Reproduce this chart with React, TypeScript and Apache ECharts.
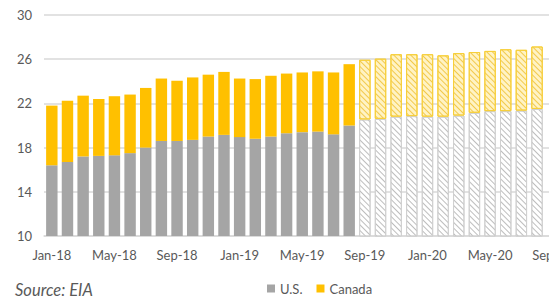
import React, { useEffect, useRef } from 'react';
import * as echarts from 'echarts';

const categories = [
  'Jan-18', 'Feb-18', 'Mar-18', 'Apr-18', 'May-18', 'Jun-18', 'Jul-18', 'Aug-18', 'Sep-18', 'Oct-18', 'Nov-18', 'Dec-18',
  'Jan-19', 'Feb-19', 'Mar-19', 'Apr-19', 'May-19', 'Jun-19', 'Jul-19', 'Aug-19', 'Sep-19', 'Oct-19', 'Nov-19', 'Dec-19',
  'Jan-20', 'Feb-20', 'Mar-20', 'Apr-20', 'May-20', 'Jun-20', 'Jul-20', 'Aug-20', 'Sep-20',
];

const usValues: (number | null)[] = [
  16.4, 16.7, 17.2, 17.25, 17.3, 17.5, 18.0, 18.6, 18.6, 18.7, 19.0, 19.15,
  18.95, 18.8, 19.0, 19.3, 19.4, 19.45, 19.2, 20.0, 20.55, 20.6, 20.8, 20.85,
  20.8, 20.8, 20.9, 21.15, 21.3, 21.3, 21.35, 21.5, null,
];

const canadaValues: (number | null)[] = [
  5.4, 5.55, 5.5, 5.15, 5.35, 5.3, 5.4, 5.65, 5.45, 5.65, 5.6, 5.7,
  5.3, 5.4, 5.5, 5.4, 5.4, 5.45, 5.6, 5.55, 5.4, 5.45, 5.65, 5.6,
  5.65, 5.55, 5.65, 5.5, 5.45, 5.6, 5.5, 5.65, null,
];

const forecastStartIndex = 20;
const seriesNames = ['U.S.', 'Canada'];
const yMin = 10;
const yMax = 30;
const yInterval = 4;
const sourceText = 'Source: EIA';

const FONT = 'Lato, "Open Sans", sans-serif';

const hatch = (color: string) => ({
  symbol: 'rect',
  symbolSize: 1,
  dashArrayX: [1, 0],
  dashArrayY: [1, 2.2],
  rotation: Math.PI / 4,
  color,
});

export default function App() {
  const ref = useRef<HTMLDivElement>(null);

  useEffect(() => {
    if (!ref.current) return;
    const chart = echarts.init(ref.current, null, { renderer: 'svg' });

    const usData = usValues.map((v, i) =>
      i >= forecastStartIndex
        ? {
            value: v,
            itemStyle: {
              color: '#ffffff',
              borderColor: '#d0d0d0',
              borderWidth: 1,
              decal: hatch('#bdbdbd'),
            },
          }
        : v
    );
    const caData = canadaValues.map((v, i) =>
      i >= forecastStartIndex
        ? {
            value: v,
            itemStyle: {
              color: '#FFF3C4',
              borderColor: '#F7CF3A',
              borderWidth: 1,
              decal: hatch('#F2C94C'),
            },
          }
        : v
    );

    chart.setOption({
      animation: false,
      backgroundColor: '#ffffff',
      textStyle: { fontFamily: FONT },
      grid: { left: 44, top: 15, width: 516.5, height: 221 },
      legend: {
        data: seriesNames,
        left: 267,
        top: 282,
        padding: 0,
        icon: 'rect',
        itemWidth: 8,
        itemHeight: 8,
        itemGap: 14,
        textStyle: { color: '#595959', fontSize: 13, fontFamily: FONT },
        selectedMode: false,
      },
      xAxis: {
        type: 'category',
        data: categories,
        axisLine: { show: true, lineStyle: { color: '#d9d9d9', width: 1.5 } },
        axisTick: { show: false },
        axisLabel: {
          interval: 3,
          color: '#595959',
          fontSize: 13,
          fontFamily: FONT,
          margin: 12,
        },
      },
      yAxis: {
        type: 'value',
        min: yMin,
        max: yMax,
        interval: yInterval,
        axisLine: { show: false },
        axisTick: { show: false },
        splitLine: { lineStyle: { color: '#d9d9d9', width: 1.5 } },
        axisLabel: { color: '#595959', fontSize: 13, fontFamily: FONT, margin: 12 },
      },
      graphic: [
        {
          type: 'text',
          left: 15,
          top: 281,
          style: {
            text: sourceText,
            fill: '#595959',
            font: `italic 16.5px ${FONT}`,
          },
        },
      ],
      series: [
        {
          name: seriesNames[0],
          type: 'bar',
          stack: 'total',
          barCategoryGap: '27%',
          itemStyle: { color: '#A5A5A5' },
          emphasis: { disabled: true },
          data: usData,
        },
        {
          name: seriesNames[1],
          type: 'bar',
          stack: 'total',
          barCategoryGap: '27%',
          itemStyle: { color: '#FFC000' },
          emphasis: { disabled: true },
          data: caData,
        },
      ],
    });

    return () => chart.dispose();
  }, []);

  return (
    <div
      style={{
        position: 'absolute',
        left: 0,
        top: 0,
        width: 549,
        height: 302,
        overflow: 'hidden',
        background: '#ffffff',
      }}
    >
      <div ref={ref} style={{ width: 580, height: 302 }} />
    </div>
  );
}
